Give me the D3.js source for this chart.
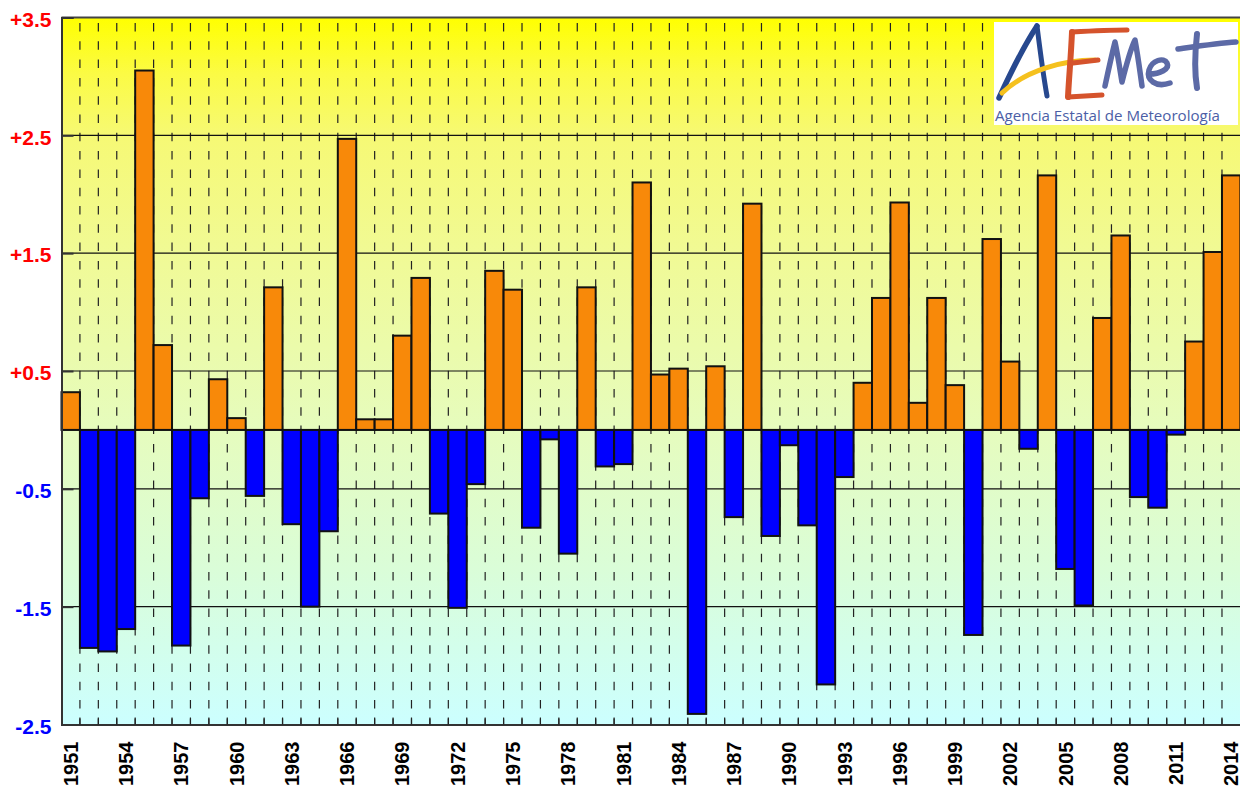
<!DOCTYPE html>
<html>
<head>
<meta charset="utf-8">
<script src="https://cdn.jsdelivr.net/npm/d3@7"></script>
<style>
  body { margin: 0; background: #fff; }
  svg { display: block; }
</style>
</head>
<body>
<div id="viz"></div>
<script>
// annual temperature anomaly (ºC), 1951-2014
const years = d3.range(1951, 2015);
const anomalies = [
  0.32, -1.85, -1.88, -1.69, 3.05, 0.72, -1.83, -0.58, 0.43, 0.10,
  -0.56, 1.21, -0.80, -1.50, -0.86, 2.47, 0.09, 0.09, 0.80, 1.29,
  -0.71, -1.51, -0.46, 1.35, 1.19, -0.83, -0.08, -1.05, 1.21, -0.31,
  -0.29, 2.10, 0.47, 0.52, -2.41, 0.54, -0.74, 1.92, -0.90, -0.13,
  -0.81, -2.16, -0.40, 0.40, 1.12, 1.93, 0.23, 1.12, 0.38, -1.74,
  1.62, 0.58, -0.16, 2.16, -1.18, -1.49, 0.95, 1.65, -0.57, -0.66,
  -0.04, 0.75, 1.51, 2.16
];
const yTicks = [3.5, 2.5, 1.5, 0.5, -0.5, -1.5, -2.5];
const gridLevels = [2.5, 1.5, 0.5, -0.5, -1.5];
const labelYears = years.filter((d, i) => i % 3 === 0);

const W = 1240, H = 788;
const mLeft = 61.5, mRight = 1240.4, mTop = 17.5, mBottom = 724.5;

const x = d3.scaleBand().domain(years).range([mLeft, mRight]).padding(0);
const y = d3.scaleLinear().domain([-2.5, 3.5]).range([mBottom, mTop]);

const svg = d3.select('#viz').append('svg')
  .attr('width', W)
  .attr('height', H);

// background gradient yellow -> pale cyan
const grad = svg.append('defs').append('linearGradient')
  .attr('id', 'bg')
  .attr('gradientUnits', 'userSpaceOnUse')
  .attr('x1', 0).attr('x2', 0)
  .attr('y1', mTop).attr('y2', mBottom);
[[0, '#ffff00'], [0.08, '#fbfb45'], [0.17, '#f6f975'], [0.35, '#f0fa98'],
 [0.58, '#e6fcbd'], [0.78, '#dafdd8'], [1, '#ccffff']]
  .forEach(([o, c]) => grad.append('stop').attr('offset', o).attr('stop-color', c));

svg.append('rect')
  .attr('x', mLeft).attr('y', mTop)
  .attr('width', mRight - mLeft).attr('height', mBottom - mTop)
  .attr('fill', 'url(#bg)');

// vertical dashed separators
svg.append('g')
  .selectAll('line')
  .data(years.slice(1))
  .join('line')
  .attr('x1', d => x(d)).attr('x2', d => x(d))
  .attr('y1', mTop + 5.5).attr('y2', mBottom)
  .attr('stroke', '#222')
  .attr('stroke-width', 1.2)
  .attr('stroke-dasharray', '8.5,9.8');

// horizontal grid
svg.append('g')
  .selectAll('line')
  .data(gridLevels)
  .join('line')
  .attr('x1', mLeft).attr('x2', mRight)
  .attr('y1', d => y(d)).attr('y2', d => y(d))
  .attr('stroke', '#111')
  .attr('stroke-width', 1.1);

// logo box (AEMET)
const logo = svg.append('g').attr('transform', 'translate(994,22)');
logo.append('rect').attr('width', 244).attr('height', 103).attr('fill', '#fff');
const brush = (d, c, w) => logo.append('path').attr('d', d)
  .attr('fill', 'none').attr('stroke', c).attr('stroke-width', w)
  .attr('stroke-linecap', 'round').attr('stroke-linejoin', 'round');
brush('M5,76 C16,52 30,24 43,4', '#27488e', 5.5);
brush('M43,4 C46,28 49,52 53,74', '#27488e', 5);
brush('M8,71 C32,48 70,38 101,38', '#f5c11e', 5);
brush('M78,10 C77,34 75,55 74,75', '#d5532c', 6);
brush('M78,10 C96,9 115,8 133,8', '#d5532c', 5);
brush('M79,41 L104,38', '#d5532c', 5);
brush('M74,75 L108,73', '#d5532c', 5);
brush('M111,64 C114,50 117,36 121,20 C124,34 126,48 128,60 C132,44 136,28 141,18 C144,34 146,50 148,64', '#5c6aa6', 5.5);
brush('M155,52 C166,52 176,47 173,41 C170,35 158,38 155,48 C152,58 162,66 176,61', '#5c6aa6', 5.5);
brush('M203,12 C201,30 200,48 203,66', '#5c6aa6', 6);
brush('M184,27 C205,24 225,21 242,20', '#5c6aa6', 5.5);
logo.append('text')
  .attr('x', 1).attr('y', 98.5)
  .attr('textLength', 225)
  .attr('lengthAdjust', 'spacingAndGlyphs')
  .style('font-family', '"Open Sans", "DejaVu Sans", sans-serif')
  .style('font-size', '15px')
  .style('fill', '#4b5ea6')
  .text('Agencia Estatal de Meteorología');

// bars
svg.append('g')
  .selectAll('rect')
  .data(years.map((yr, i) => ({ yr, v: anomalies[i] })))
  .join('rect')
  .attr('x', d => x(d.yr))
  .attr('width', x.bandwidth())
  .attr('y', d => y(Math.max(0, d.v)))
  .attr('height', d => Math.abs(y(d.v) - y(0)))
  .attr('fill', d => d.v >= 0 ? '#f88909' : '#0000ff')
  .attr('stroke', '#111')
  .attr('stroke-width', 2);

// zero line
svg.append('line')
  .attr('x1', mLeft).attr('x2', mRight)
  .attr('y1', y(0)).attr('y2', y(0))
  .attr('stroke', '#111').attr('stroke-width', 1.4);

// frame top
svg.append('line')
  .attr('x1', mLeft).attr('x2', mRight).attr('y1', mTop).attr('y2', mTop)
  .attr('stroke', '#444').attr('stroke-width', 2);

// left axis
const yAxis = svg.append('g')
  .attr('transform', `translate(${mLeft},0)`)
  .call(d3.axisLeft(y)
    .tickValues(yTicks)
    .tickFormat(d => (d > 0 ? '+' : '') + d.toFixed(1))
    .tickSize(-12)
    .tickPadding(10));
yAxis.select('.domain').attr('stroke', '#333').attr('stroke-width', 2);
yAxis.selectAll('.tick line').attr('stroke', '#333').attr('stroke-width', 2);
yAxis.selectAll('.tick text')
  .attr('dy', '0.42em')
  .style('font-family', '"Liberation Sans", Arial, sans-serif')
  .style('font-weight', 'bold')
  .style('font-size', '21px')
  .style('fill', d => d > 0 ? '#ff0000' : '#0000ff');

// bottom axis
const xAxis = svg.append('g')
  .attr('transform', `translate(0,${mBottom})`)
  .call(d3.axisBottom(x).tickValues(labelYears).tickSize(0));
xAxis.select('.domain').attr('stroke', '#333').attr('stroke-width', 2);
xAxis.selectAll('.tick text')
  .attr('transform', 'rotate(-90)')
  .attr('text-anchor', 'end')
  .attr('x', -17)
  .attr('y', 0)
  .attr('dy', '0.36em')
  .style('font-family', '"Liberation Sans", Arial, sans-serif')
  .style('font-weight', 'bold')
  .style('font-size', '20px')
  .style('fill', '#000');

// small inner ticks on bottom axis at each bar edge
svg.append('g')
  .selectAll('line')
  .data(years.slice(1))
  .join('line')
  .attr('x1', d => x(d)).attr('x2', d => x(d))
  .attr('y1', mBottom - 7).attr('y2', mBottom)
  .attr('stroke', '#222').attr('stroke-width', 1.2);
</script>
</body>
</html>
